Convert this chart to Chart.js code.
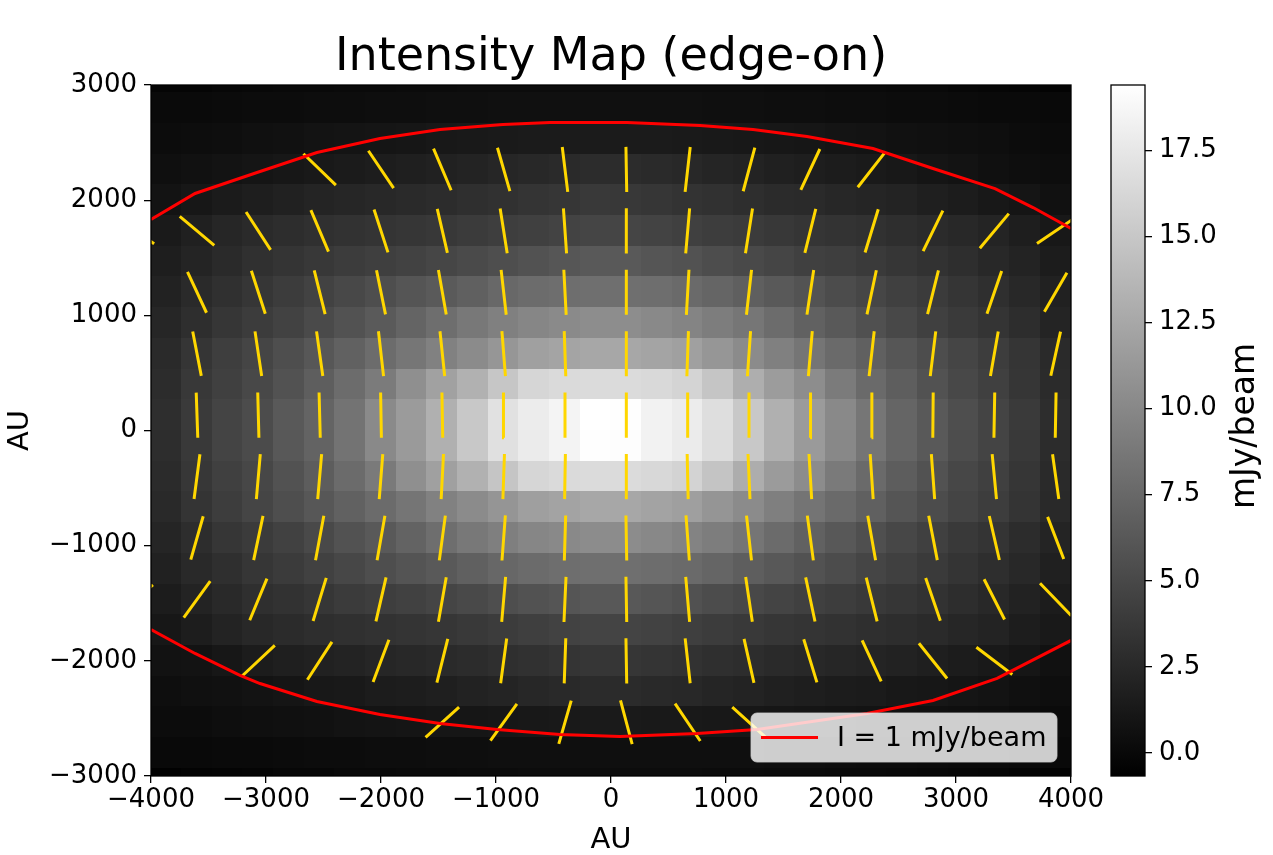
<!DOCTYPE html>
<html>
<head>
<meta charset="utf-8">
<title>Intensity Map (edge-on)</title>
<script src="https://cdn.jsdelivr.net/npm/chart.js@4.4.1/dist/chart.umd.min.js"></script>
<style>
  html, body { margin: 0; padding: 0; background: #fff; }
  #wrap { position: relative; width: 1273px; height: 855px; }
  #mapChart { position: absolute; left: 0; top: 0; }
  #barChart { position: absolute; left: 1100px; top: 0; }
</style>
</head>
<body>
<div id="wrap">
  <canvas id="mapChart" width="1222" height="855"></canvas>
  <canvas id="barChart" width="173" height="855"></canvas>
</div>
<script>
// pixel centres of the intensity image (AU)
const cellX = [-3866.7, -3600, -3333.3, -3066.7, -2800, -2533.3, -2266.7, -2000, -1733.3, -1466.7,
               -1200, -933.3, -666.7, -400, -133.3, 133.3, 400, 666.7, 933.3, 1200,
               1466.7, 1733.3, 2000, 2266.7, 2533.3, 2800, 3066.7, 3333.3, 3600, 3866.7];
const cellY = [3066.7, 2800, 2533.3, 2266.7, 2000, 1733.3, 1466.7, 1200, 933.3, 666.7, 400, 133.3,
               -133.3, -400, -666.7, -933.3, -1200, -1466.7, -1733.3, -2000, -2266.7, -2533.3, -2800, -3066.7];

// intensity (mJy/beam), one row per cellY (top to bottom), one value per cellX
const intensity = [
  [-0.3, -0.25, -0.15, -0.05, 0.0, 0.05, 0.1, 0.15, 0.2, 0.2, 0.25, 0.25, 0.3, 0.3, 0.3, 0.3, 0.3, 0.3, 0.25, 0.25, 0.2, 0.2, 0.15, 0.1, 0.05, 0.0, -0.1, -0.2, -0.3, -0.4],
  [0.1, 0.15, 0.2, 0.25, 0.3, 0.35, 0.38, 0.42, 0.45, 0.5, 0.52, 0.55, 0.57, 0.58, 0.58, 0.58, 0.56, 0.55, 0.53, 0.5, 0.45, 0.4, 0.38, 0.35, 0.3, 0.25, 0.2, 0.15, 0.1, 0.05],
  [0.3, 0.35, 0.45, 0.55, 0.7, 0.8, 0.9, 1.0, 1.1, 1.2, 1.3, 1.38, 1.43, 1.46, 1.46, 1.46, 1.43, 1.4, 1.33, 1.25, 1.12, 1.04, 0.92, 0.82, 0.7, 0.6, 0.5, 0.4, 0.3, 0.2],
  [0.5, 0.65, 0.8, 0.95, 1.12, 1.3, 1.45, 1.6, 1.75, 1.9, 2.1, 2.3, 2.5, 2.65, 2.8, 2.78, 2.62, 2.45, 2.25, 2.05, 1.85, 1.68, 1.5, 1.38, 1.2, 1.02, 0.8, 0.6, 0.45, 0.35],
  [0.85, 1.15, 1.45, 1.7, 1.95, 2.15, 2.35, 2.5, 2.65, 2.8, 3.0, 3.2, 3.4, 3.6, 3.8, 3.75, 3.55, 3.35, 3.15, 2.95, 2.75, 2.6, 2.42, 2.25, 2.05, 1.8, 1.55, 1.25, 0.97, 0.7],
  [1.38, 1.85, 2.3, 2.6, 2.9, 3.1, 3.25, 3.45, 3.6, 3.75, 4.0, 4.2, 4.4, 4.6, 4.8, 4.8, 4.6, 4.35, 4.15, 3.95, 3.7, 3.5, 3.35, 3.15, 2.95, 2.75, 2.45, 2.15, 1.7, 1.25],
  [1.69, 2.16, 2.64, 3.1, 3.4, 3.7, 4.05, 4.3, 4.5, 4.85, 5.15, 5.5, 5.8, 6.1, 6.3, 6.3, 6.05, 5.75, 5.4, 5.05, 4.75, 4.4, 4.2, 3.9, 3.6, 3.3, 2.95, 2.5, 2.05, 1.55],
  [2.0, 2.6, 3.1, 3.6, 4.05, 4.5, 5.0, 5.5, 6.0, 6.4, 6.9, 7.5, 7.8, 8.0, 8.1, 8.1, 7.95, 7.7, 7.3, 6.8, 6.3, 5.85, 5.35, 4.85, 4.4, 3.95, 3.5, 3.0, 2.5, 1.9],
  [2.3, 2.95, 3.6, 4.05, 4.5, 5.15, 5.8, 6.4, 7.2, 8.0, 8.8, 9.4, 9.9, 10.2, 10.4, 10.4, 10.1, 9.7, 9.2, 8.6, 7.8, 7.0, 6.3, 5.6, 5.0, 4.4, 3.9, 3.45, 2.85, 2.2],
  [2.6, 3.5, 4.2, 4.8, 5.5, 6.2, 7.0, 7.8, 8.6, 9.5, 10.3, 11.1, 11.9, 12.2, 12.5, 12.5, 12.2, 11.9, 11.1, 10.3, 9.4, 8.5, 7.7, 6.9, 6.1, 5.4, 4.75, 4.15, 3.5, 2.6],
  [2.8, 3.7, 4.4, 5.0, 5.8, 6.7, 7.8, 9.0, 10.6, 12.0, 13.3, 14.9, 16.2, 16.5, 16.6, 16.6, 16.4, 16.0, 14.8, 13.0, 11.6, 10.4, 9.0, 7.7, 6.7, 5.8, 5.0, 4.4, 3.6, 2.7],
  [2.95, 3.9, 4.7, 5.3, 6.3, 7.2, 8.4, 10.2, 11.5, 13.2, 15.1, 17.0, 17.9, 18.5, 19.4, 19.3, 18.4, 17.9, 16.8, 15.1, 13.2, 11.5, 10.1, 8.6, 7.3, 6.35, 5.45, 4.7, 3.9, 2.85],
  [2.9, 3.85, 4.65, 5.25, 6.25, 7.15, 8.35, 10.15, 11.45, 13.15, 15.05, 16.95, 17.85, 18.45, 19.35, 19.25, 18.35, 17.85, 16.75, 15.05, 13.15, 11.45, 10.05, 8.55, 7.25, 6.3, 5.4, 4.65, 3.85, 2.8],
  [2.75, 3.65, 4.35, 4.95, 5.75, 6.65, 7.75, 8.95, 10.55, 11.95, 13.25, 14.85, 16.15, 16.45, 16.55, 16.55, 16.35, 15.95, 14.75, 12.95, 11.55, 10.35, 8.95, 7.65, 6.65, 5.75, 4.95, 4.35, 3.55, 2.65],
  [2.55, 3.45, 4.15, 4.75, 5.45, 6.15, 6.95, 7.75, 8.55, 9.45, 10.25, 11.05, 11.85, 12.15, 12.45, 12.45, 12.15, 11.85, 11.05, 10.25, 9.35, 8.45, 7.65, 6.85, 6.05, 5.35, 4.7, 4.1, 3.45, 2.55],
  [2.25, 2.9, 3.55, 4.0, 4.45, 5.1, 5.75, 6.35, 7.15, 7.95, 8.75, 9.35, 9.85, 10.15, 10.35, 10.35, 10.05, 9.65, 9.15, 8.55, 7.75, 6.95, 6.25, 5.55, 4.95, 4.35, 3.85, 3.4, 2.8, 2.15],
  [1.95, 2.55, 3.05, 3.55, 4.0, 4.45, 4.95, 5.45, 5.95, 6.35, 6.85, 7.45, 7.75, 7.95, 8.05, 8.05, 7.9, 7.65, 7.25, 6.75, 6.25, 5.8, 5.3, 4.8, 4.35, 3.9, 3.45, 2.95, 2.45, 1.85],
  [1.55, 2.05, 2.55, 3.0, 3.3, 3.6, 3.95, 4.2, 4.45, 4.8, 5.1, 5.45, 5.75, 6.05, 6.25, 6.25, 6.0, 5.7, 5.35, 5.0, 4.7, 4.35, 4.15, 3.85, 3.55, 3.25, 2.9, 2.45, 2.0, 1.55],
  [1.12, 1.6, 2.1, 2.45, 2.75, 2.95, 3.1, 3.3, 3.45, 3.6, 3.85, 4.05, 4.3, 4.5, 4.7, 4.7, 4.5, 4.25, 4.05, 3.85, 3.6, 3.4, 3.25, 3.05, 2.85, 2.65, 2.35, 2.05, 1.65, 1.3],
  [0.75, 0.85, 1.15, 1.5, 1.75, 1.95, 2.1, 2.3, 2.45, 2.6, 2.8, 3.0, 3.2, 3.4, 3.6, 3.6, 3.4, 3.25, 3.05, 2.85, 2.65, 2.5, 2.35, 2.2, 2.0, 1.8, 1.55, 1.3, 1.05, 0.7],
  [0.45, 0.55, 0.7, 0.85, 1.02, 1.2, 1.32, 1.5, 1.65, 1.8, 2.0, 2.2, 2.4, 2.55, 2.7, 2.7, 2.55, 2.45, 2.25, 2.05, 1.85, 1.68, 1.55, 1.42, 1.25, 1.12, 0.98, 0.8, 0.6, 0.4],
  [0.25, 0.3, 0.4, 0.5, 0.6, 0.7, 0.8, 0.88, 0.95, 1.04, 1.1, 1.17, 1.25, 1.3, 1.34, 1.34, 1.3, 1.28, 1.22, 1.16, 1.08, 0.98, 0.9, 0.82, 0.7, 0.6, 0.5, 0.4, 0.3, 0.2],
  [0.0, 0.05, 0.1, 0.15, 0.2, 0.25, 0.3, 0.35, 0.38, 0.4, 0.45, 0.48, 0.5, 0.52, 0.53, 0.53, 0.52, 0.52, 0.5, 0.48, 0.45, 0.4, 0.35, 0.3, 0.25, 0.2, 0.15, 0.1, 0.05, 0.0],
  [-0.6, -0.45, -0.35, -0.25, -0.15, -0.1, 0.0, 0.05, 0.1, 0.15, 0.2, 0.2, 0.25, 0.25, 0.25, 0.25, 0.25, 0.25, 0.2, 0.2, 0.15, 0.1, 0.05, 0.0, -0.05, -0.1, -0.2, -0.3, -0.4, -0.5]
];
const vmin = -0.67;
const vmax = 19.4;

// polarisation segments: grid positions (AU) and angle from vertical (deg, + = top leans right)
const vecX = [-4133.3, -3600, -3066.7, -2533.3, -2000, -1466.7, -933.3, -400, 133.3, 666.7, 1200, 1733.3, 2266.7, 2800, 3333.3, 3866.7];
const vecY = [2266.7, 1733.3, 1200, 666.7, 133.3, -400, -933.3, -1466.7, -2000, -2533.3];
const vecAngle = [
  [null, null, null, -46, -34, -23, -16, -7, -1, 6.5, 15, 25, 38, null, null, null],
  [-55, -50, -33, -23, -18, -13, -9, -4, 0, 5, 9, 14, 17, 26, 40, 56],
  [null, -25, -18, -14, -11.5, -10, -6.5, -3, 0, 3.3, 6.5, 8.6, 12, 14, 19, 30],
  [null, -11, -8.5, -8, -6.5, -6, -4.5, -2, 0, 2, 4, 5, 6.5, 7, 10, 12.5],
  [null, -2, -1.5, -1.5, -1, -1, -0.5, 0, 0, 0, 0, 0.5, 0.5, 0.5, 1, 1],
  [null, 7.5, 5, 5, 4.5, 3, 2, 1, 0, -1.3, -2.5, -3.4, -3.8, -4.2, -5.5, -8],
  [null, 16, 12, 10.6, 10, 7.7, 4.3, 1.7, -1, -4.3, -6.4, -7.7, -10, -11, -13, -21],
  [50, 36, 22.5, 17, 13, 10, 5, 2.6, -1, -5, -8.5, -12, -14, -19, -27, -44],
  [null, null, 47, 33, 20.6, 14, 7.7, 2, -1, -6.4, -12.7, -17, -25, -38.7, -52.8, null],
  [null, null, null, null, null, 48, 36, 16, -15, -34, -48, null, null, null, null, null]
];

// I = 1 mJy/beam contour, upper and lower branches (AU)
const contourUpperX = [-4000, -3617, -3078, -2557, -2009, -1487, -939, -530, 139, 774, 1235, 1704, 2278, 2800, 3339, 3670, 4000];
const contourUpperY = [1832, 2058, 2240, 2414, 2535, 2614, 2657, 2674, 2674, 2648, 2614, 2553, 2449, 2275, 2101, 1936, 1754];
const contourLowerX = [-4000, -3617, -3226, -3052, -2557, -2009, -1487, -991, -443, 78, 748, 1270, 2226, 2800, 3357, 4000];
const contourLowerY = [-1728, -1936, -2127, -2197, -2353, -2466, -2544, -2596, -2640, -2657, -2631, -2596, -2457, -2344, -2153, -1823];

const xTicks = [-4000, -3000, -2000, -1000, 0, 1000, 2000, 3000, 4000];
const yTicks = [-3000, -2000, -1000, 0, 1000, 2000, 3000];
const barTicks = [0, 2.5, 5, 7.5, 10, 12.5, 15, 17.5];
const contourLabel = 'I = 1 mJy/beam';
const barLabel = 'mJy/beam';

Chart.defaults.font.family = "'DejaVu Sans', sans-serif";
Chart.defaults.color = '#000';

const vecHalf = 196;  // half length of a segment, AU

function grey(v) {
    const t = Math.min(1, Math.max(0, (v - vmin) / (vmax - vmin)));
    const g = Math.round(t * 255);
    return `rgb(${g},${g},${g})`;
}

const minus = v => String(v).replace('-', '\u2212');

// segment end points, broken apart by empty points
const vectorPoints = [];
vecY.forEach((vy, i) => vecX.forEach((vx, j) => {
    const a = vecAngle[i][j];
    if (a === null) return;
    const r = a * Math.PI / 180;
    const ex = vecHalf * Math.sin(r), ey = vecHalf * Math.cos(r);
    vectorPoints.push({ x: vx - ex, y: vy - ey }, { x: vx + ex, y: vy + ey }, { x: vx, y: NaN });
}));

const contourPoints = [
    ...contourUpperX.map((x, i) => ({ x, y: contourUpperY[i] })),
    { x: 0, y: NaN },
    ...contourLowerX.map((x, i) => ({ x, y: contourLowerY[i] }))
];

// grey image under the datasets
const imagePlugin = {
    id: 'image',
    beforeDatasetsDraw(chart) {
        const { ctx, chartArea: a, scales: { x, y } } = chart;
        const hx = (cellX[1] - cellX[0]) / 2, hy = (cellY[0] - cellY[1]) / 2;
        ctx.save();
        ctx.beginPath();
        ctx.rect(a.left, a.top, a.width, a.height);
        ctx.clip();
        intensity.forEach((row, i) => row.forEach((v, j) => {
            const x0 = Math.floor(x.getPixelForValue(cellX[j] - hx));
            const x1 = Math.ceil(x.getPixelForValue(cellX[j] + hx));
            const y0 = Math.floor(y.getPixelForValue(cellY[i] + hy));
            const y1 = Math.ceil(y.getPixelForValue(cellY[i] - hy));
            ctx.fillStyle = grey(v);
            ctx.fillRect(x0, y0, x1 - x0, y1 - y0);
        }));
        ctx.restore();
    }
};

// legend box in the lower right corner, frame round the axes
const legendPlugin = {
    id: 'contourLegend',
    afterDatasetsDraw(chart) {
        const { ctx, chartArea: a } = chart;
        const ds = chart.data.datasets[0];
        const w = 306, h = 49;
        const x0 = a.right - 14 - w, y0 = a.bottom - 14 - h;
        ctx.save();
        ctx.beginPath();
        ctx.roundRect(x0, y0, w, h, 6);
        ctx.fillStyle = 'rgba(255,255,255,0.8)';
        ctx.fill();
        ctx.strokeStyle = 'rgba(204,204,204,0.8)';
        ctx.lineWidth = 1;
        ctx.stroke();
        ctx.strokeStyle = ds.borderColor;
        ctx.lineWidth = ds.borderWidth;
        ctx.beginPath();
        ctx.moveTo(x0 + 10, y0 + h / 2);
        ctx.lineTo(x0 + 67, y0 + h / 2);
        ctx.stroke();
        ctx.fillStyle = '#000';
        ctx.font = "27px 'DejaVu Sans'";
        ctx.textBaseline = 'middle';
        ctx.fillText(ds.label, x0 + 86, y0 + h / 2 + 1);
        ctx.restore();
    },
    afterDraw(chart) {
        const { ctx, chartArea: a } = chart;
        ctx.save();
        ctx.strokeStyle = '#000';
        ctx.lineWidth = 1.3;
        ctx.strokeRect(a.left, a.top, a.width, a.height);
        ctx.restore();
    }
};

const tickGrid = { drawOnChartArea: false, drawTicks: true, tickLength: 7, color: '#000', lineWidth: 1.3 };

new Chart(document.getElementById('mapChart'), {
    type: 'scatter',
    data: {
        datasets: [{
            label: contourLabel,
            data: contourPoints,
            showLine: true,
            borderColor: '#ff0000',
            borderWidth: 3,
            pointRadius: 0,
            spanGaps: false,
            clip: 0
        }, {
            label: 'polarisation',
            data: vectorPoints,
            showLine: true,
            borderColor: '#ffd700',
            borderWidth: 3,
            pointRadius: 0,
            spanGaps: false,
            clip: 0
        }]
    },
    options: {
        responsive: false,
        animation: false,
        devicePixelRatio: 1,
        layout: { padding: 0 },
        plugins: {
            legend: { display: false },
            tooltip: { enabled: false },
            title: {
                display: true,
                text: 'Intensity Map (edge-on)',
                color: '#000',
                font: { size: 46, weight: 'normal', lineHeight: 1.1 },
                padding: { top: 33, bottom: 1.4 }
            }
        },
        scales: {
            x: {
                type: 'linear',
                min: -4000, max: 4000,
                afterBuildTicks: s => { s.ticks = xTicks.map(v => ({ value: v })); },
                afterFit: s => { s.height = 79; },
                ticks: { font: { size: 26 }, color: '#000', padding: 2, maxRotation: 0, callback: minus },
                grid: tickGrid,
                border: { display: false },
                title: { display: true, text: 'AU', color: '#000', font: { size: 29, lineHeight: 1.0 }, padding: 0 }
            },
            y: {
                type: 'linear',
                min: -3000, max: 3000,
                afterBuildTicks: s => { s.ticks = yTicks.map(v => ({ value: v })); },
                afterFit: s => { s.width = 151; },
                ticks: { font: { size: 26 }, color: '#000', padding: 7, callback: minus },
                grid: tickGrid,
                border: { display: false },
                title: { display: true, text: 'AU', color: '#000', font: { size: 29, lineHeight: 1.0 }, padding: { top: 6, bottom: 0 } }
            },
            yr: {
                type: 'linear',
                position: 'right',
                afterFit: s => { s.width = 151; },
                ticks: { display: false },
                grid: { display: false },
                border: { display: false }
            }
        }
    },
    plugins: [imagePlugin, legendPlugin]
});

// colour bar
const barPlugin = {
    id: 'colourBar',
    beforeDatasetsDraw(chart) {
        const { ctx, chartArea: a, scales: { y } } = chart;
        const g = ctx.createLinearGradient(0, y.getPixelForValue(vmin), 0, y.getPixelForValue(vmax));
        g.addColorStop(0, grey(vmin));
        g.addColorStop(1, grey(vmax));
        ctx.save();
        ctx.fillStyle = g;
        ctx.fillRect(a.left, a.top, a.width, a.height);
        ctx.strokeStyle = '#000';
        ctx.lineWidth = 1.3;
        ctx.strokeRect(a.left, a.top, a.width, a.height);
        ctx.translate(145, 426);
        ctx.rotate(-Math.PI / 2);
        ctx.textAlign = 'center';
        ctx.textBaseline = 'middle';
        ctx.fillStyle = '#000';
        ctx.font = "33px 'DejaVu Sans'";
        ctx.fillText(barLabel, 0, 0);
        ctx.restore();
    }
};

new Chart(document.getElementById('barChart'), {
    type: 'scatter',
    data: { datasets: [] },
    options: {
        responsive: false,
        animation: false,
        devicePixelRatio: 1,
        layout: { padding: { left: 11, top: 85, bottom: 79, right: 0 } },
        plugins: { legend: { display: false }, tooltip: { enabled: false } },
        scales: {
            x: { display: false },
            y: {
                type: 'linear',
                position: 'right',
                min: vmin, max: vmax,
                afterBuildTicks: s => { s.ticks = barTicks.map(v => ({ value: v })); },
                afterFit: s => { s.width = 128; },
                ticks: { font: { size: 26 }, color: '#000', padding: 7, callback: v => v.toFixed(1) },
                grid: tickGrid,
                border: { display: false }
            }
        }
    },
    plugins: [barPlugin]
});
</script>
</body>
</html>
